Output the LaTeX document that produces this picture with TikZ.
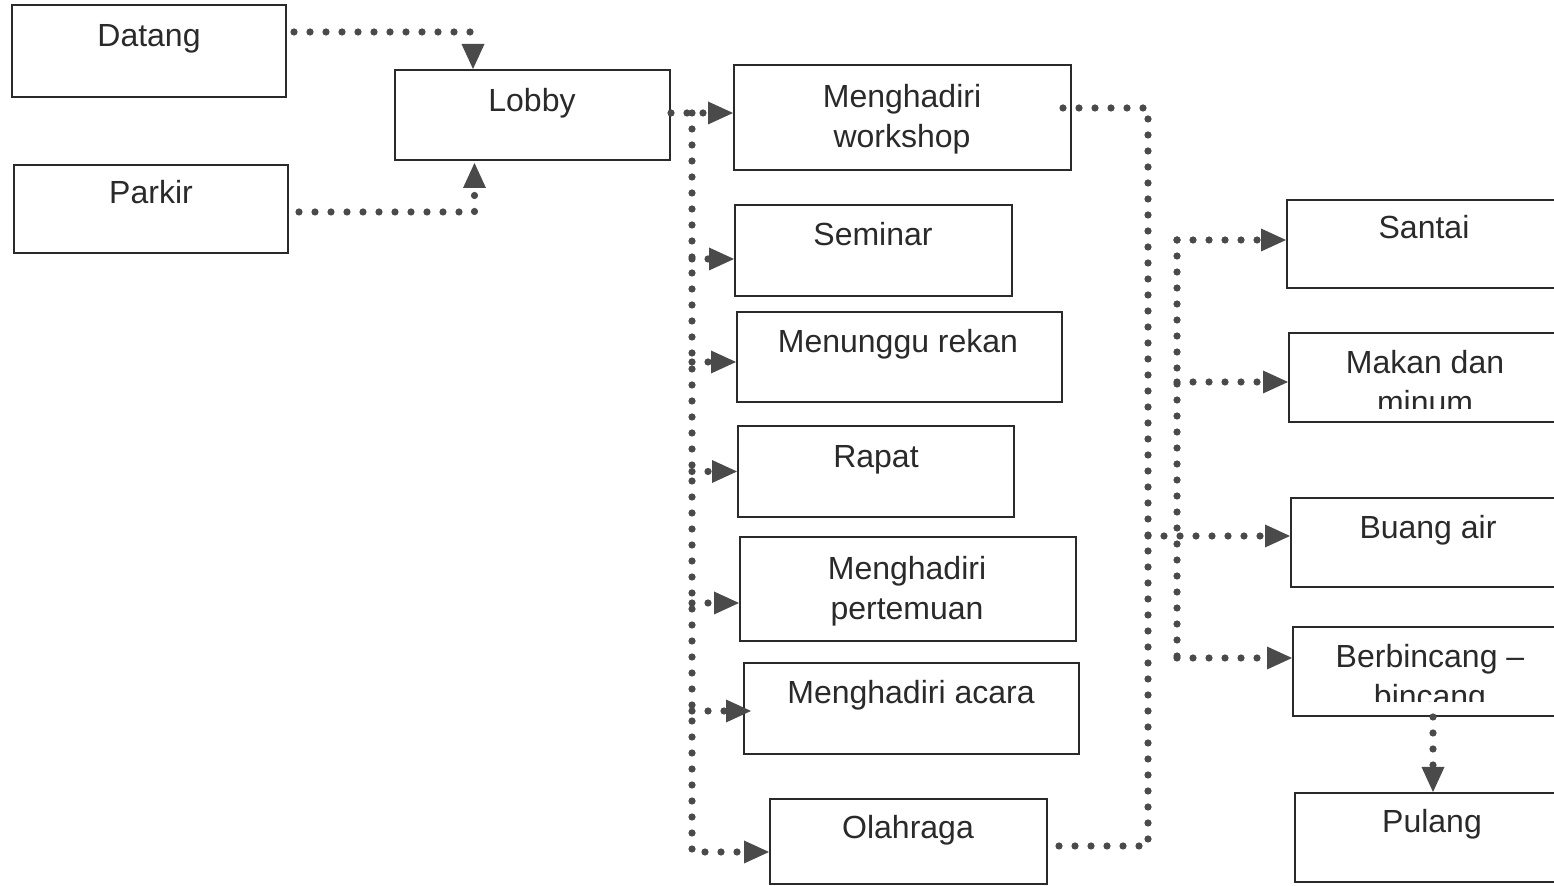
\documentclass[tikz,border=0pt]{standalone}
\usepackage{fontspec}
\setmainfont{Liberation Sans}
\usetikzlibrary{arrows.meta}
\definecolor{ink}{HTML}{2A2A2A}
\definecolor{dotc}{HTML}{4A4A4A}
% box from corner (x1,y1) to (x2,y2), in pixel units
\newcommand\flowbox[5]{%
  \node[box, minimum width={(#4-#2)*0.5pt}, minimum height={(#5-#3)*0.5pt}]
    (#1) at ({(#2+#4)/2},{(#3+#5)/2}) {};}
\begin{document}
\begin{tikzpicture}[x=0.5pt,y=-0.5pt,
  box/.style={draw=ink, line width=1pt, rectangle, inner sep=0pt},
  lbl/.style={text=ink, font=\fontsize{16pt}{20pt}\selectfont, anchor=base,
              inner sep=0pt, align=center},
  dotline/.style={draw=dotc, line width=3.6pt, line cap=round,
                  dash pattern=on 0pt off 8pt},
  arr/.style={-{Triangle[length=12.5pt,width=11.5pt,line width=0pt]}}]
\clip (0,0) rectangle (1554,886);
\fill[white] (0,0) rectangle (1554,886);

% ---- boxes
\flowbox{datang}{12}{5}{286}{97}
\flowbox{parkir}{14}{165}{288}{253}
\flowbox{lobby}{395}{70}{670}{160}
\flowbox{workshop}{734}{65}{1071}{170}
\flowbox{seminar}{735}{205}{1012}{296}
\flowbox{menunggu}{737}{312}{1062}{402}
\flowbox{rapat}{738}{426}{1014}{517}
\flowbox{pertemuan}{740}{537}{1076}{641}
\flowbox{acara}{744}{663}{1079}{754}
\flowbox{olahraga}{770}{799}{1047}{884}
\flowbox{santai}{1287}{200}{1575}{288}
\flowbox{makan}{1289}{333}{1575}{422}
\flowbox{buang}{1291}{498}{1575}{587}
\flowbox{berb}{1293}{627}{1573}{716}
\flowbox{pulang}{1295}{793}{1571}{882}

% ---- labels (two-line labels sit on the baseline of their last line)
\node[lbl] (datang-t) at (149,47) {Datang};
\node[lbl] (parkir-t) at (151,204) {Parkir};
\node[lbl] (lobby-t) at (532,112) {Lobby};
\node[lbl] (workshop-t) at (902,148) {Menghadiri\\workshop};
\node[lbl] (seminar-t) at (873,246) {Seminar};
\node[lbl] (menunggu-t) at (898,353) {Menunggu rekan};
\node[lbl] (rapat-t) at (876,468) {Rapat};
\node[lbl] (pertemuan-t) at (907,620) {Menghadiri\\pertemuan};
\node[lbl] (acara-t) at (911,704) {Menghadiri acara};
\node[lbl] (olahraga-t) at (908,839) {Olahraga};
\node[lbl] (santai-t) at (1424,239) {Santai};
\begin{scope}
  \clip (1289,333) rectangle (1600,409);
  \node[lbl] (makan-t) at (1425,414) {Makan dan\\minum};
\end{scope}
\node[lbl] (buang-t) at (1428,539) {Buang air};
\begin{scope}
  \clip (1293,627) rectangle (1600,702);
  \node[lbl] (berb-t) at (1430,708) {Berbincang --\\bincang};
\end{scope}
\node[lbl] (pulang-t) at (1432,833) {Pulang};

% ---- entry points and junctions
\coordinate (lsplit) at (692,113);
\coordinate (rbot) at (1148,846);
\coordinate (v2) at (1177,240);
\path ([shift={(0,8.5)}]seminar.west) coordinate (sem-in)
      ([shift={(0,5)}]menunggu.west) coordinate (men-in)
      ([shift={(0,0)}]rapat.west) coordinate (rap-in)
      ([shift={(0,14)}]pertemuan.west) coordinate (per-in)
      ([shift={(8,2.5)}]acara.west) coordinate (aca-in)
      ([shift={(0,-4)}]santai.west) coordinate (san-in)
      ([shift={(0,4.5)}]makan.west) coordinate (mak-in)
      ([shift={(0,-6.5)}]buang.west) coordinate (bua-in)
      ([shift={(0,-13.5)}]berb.west) coordinate (ber-in);

% ---- connectors
\draw[dotline,arr] ([shift={(7,-19)}]datang.east) -| ([shift={(-59.5,0)}]lobby.north);
\draw[dotline,arr] ([shift={(10,3)}]parkir.east) -| ([shift={(-58,2)}]lobby.south);
\draw[dotline,arr] ([shift={(0,-2)}]lobby.east) -- ([shift={(0,-4.5)}]workshop.west);
\draw[dotline,arr] (lsplit) |- ([shift={(0,10.5)}]olahraga.west);
\draw[dotline,arr] (lsplit |- sem-in) -- (sem-in);
\draw[dotline,arr] (lsplit |- men-in) -- (men-in);
\draw[dotline,arr] (lsplit |- rap-in) -- (rap-in);
\draw[dotline,arr] (lsplit |- per-in) -- (per-in);
\draw[dotline,arr] (lsplit |- aca-in) -- (aca-in);

\draw[dotline] ([shift={(-9,-9.5)}]workshop.east) -| (rbot) -- ([shift={(10,4.5)}]olahraga.east);
\draw[dotline,arr] (rbot |- bua-in) -- (bua-in);
\draw[dotline] (v2 |- san-in) -- (v2 |- ber-in);
\draw[dotline,arr] (v2 |- san-in) -- (san-in);
\draw[dotline,arr] (v2 |- mak-in) -- (mak-in);
\draw[dotline,arr] (v2 |- ber-in) -- (ber-in);
\draw[dotline,arr] (berb.south) -- (pulang.north);
\end{tikzpicture}
\end{document}
